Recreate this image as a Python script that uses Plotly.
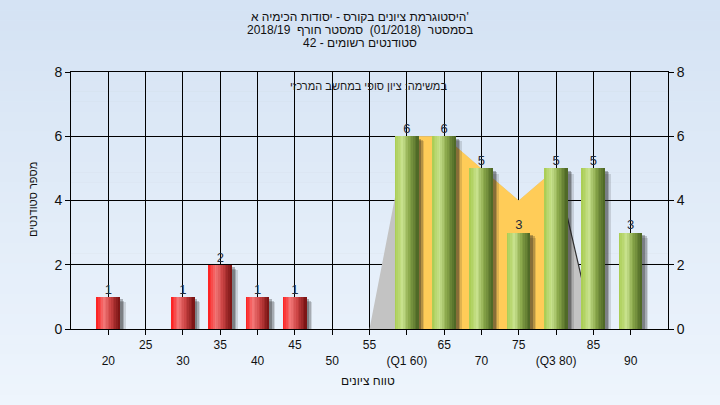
import plotly.graph_objects as go

# ---------------- data ----------------
categories = ["20", "25", "30", "35", "40", "45", "50", "55",
              "60", "65", "70", "75", "80", "85", "90"]
counts = [1, 0, 1, 2, 1, 1, 0, 0, 6, 6, 5, 3, 5, 5, 3]
tick_labels = ["<br>20", "25", "<br>30", "35", "<br>40", "45", "<br>50", "55",
               "<br>(Q1 60)", "65", "<br>70", "75", "<br>(Q3 80)", "85", "<br>90"]
pass_score = 60

dist_cats = ["55", "60", "65", "70", "75", "80", "85"]
dist_vals = [0, 6, 6, 5, 4, 5, 0]
iqr_cats = ["60", "65", "70", "75", "80"]
iqr_vals = [6, 6, 5, 4, 5]
tail_cats = ["80", "85"]
tail_vals = [5, 0]

title_lines = ["היסטוגרמת ציונים בקורס - יסודות הכימיה א'",
               "בסמסטר  (01/2018)  סמסטר חורף  2018/19",
               "סטודנטים רשומים - 42"]
note_text = "במשימה: ציון סופי במחשב המרכזי"
x_title = "טווח ציונים"
y_title = "מספר סטודנטים"

# ---------------- styling helpers ----------------
W, H = 720, 405
PL, PR, PT, PB = 71, 668, 72, 329
FONT = "Liberation Sans, DejaVu Sans, Arial, sans-serif"


def px_x(x):
    return (x - PL) / (PR - PL)


def px_y(y):
    return (PB - y) / (PB - PT)


def hex2rgb(h):
    h = h.lstrip("#")
    return tuple(int(h[i:i + 2], 16) for i in (0, 2, 4))


def grad(stops, t):
    for (t0, c0), (t1, c1) in zip(stops, stops[1:]):
        if t0 <= t <= t1:
            a = (t - t0) / (t1 - t0) if t1 > t0 else 0
            r0, g0, b0 = hex2rgb(c0)
            r1, g1, b1 = hex2rgb(c1)
            return "rgb(%d,%d,%d)" % (r0 + (r1 - r0) * a, g0 + (g1 - g0) * a, b0 + (b1 - b0) * a)
    return stops[-1][1]


cat_idx = {c: i for i, c in enumerate(categories)}


def area_path(cats, vals):
    pts = [(cat_idx[c], v) for c, v in zip(cats, vals)]
    p = "M %g,0 " % pts[0][0]
    p += " ".join("L %g,%g" % (x, y) for x, y in pts)
    p += " L %g,0 Z" % pts[-1][0]
    return p


def line_path(cats, vals):
    pts = [(cat_idx[c], v) for c, v in zip(cats, vals)]
    return "M " + " L ".join("%g,%g" % (x, y) for x, y in pts)


red_stops = [(0, "#ff1a1a"), (0.33, "#f27878"), (0.62, "#cc4444"), (1.0, "#761212")]
green_stops = [(0, "#a8cc50"), (0.33, "#c8e28e"), (0.62, "#8aa84a"), (1.0, "#4a6424")]

fig = go.Figure()

BW = 0.62
# shadows
for dx, db, op in [(0.08, -0.08, 0.30), (0.12, -0.12, 0.22), (0.16, -0.16, 0.14)]:
    fig.add_trace(go.Bar(x=categories, y=counts, base=db, width=BW, offset=-BW / 2 + dx,
                         marker=dict(color="rgba(30,30,30,%.2f)" % op, line=dict(width=0)),
                         hoverinfo="skip", showlegend=False))

# gradient bars
N = 14
for k in range(N):
    t = (k + 0.5) / N
    cols = [grad(green_stops if int(c) >= pass_score else red_stops, t) for c in categories]
    fig.add_trace(go.Bar(x=categories, y=counts, width=BW / N + 0.004,
                         offset=-BW / 2 + k * BW / N,
                         marker=dict(color=cols, line=dict(width=0)),
                         hoverinfo="skip", showlegend=False))

# value labels
lab_x = [c for c, v in zip(categories, counts) if v > 0]
lab_y = [v for v in counts if v > 0]
fig.add_trace(go.Scatter(x=lab_x, y=lab_y, mode="text", text=[str(v) for v in lab_y],
                         textposition="top center",
                         textfont=dict(family=FONT, size=13, color="#1e2a3a"),
                         hoverinfo="skip", showlegend=False, cliponaxis=False))

# right axis carrier
fig.add_trace(go.Scatter(x=categories, y=counts, yaxis="y2", mode="markers",
                         marker=dict(opacity=0), hoverinfo="skip", showlegend=False))

# paper gradient
shapes = []
NB = 40
top_c, bot_c = "#d5e3f4", "#eef5fd"
for i in range(NB):
    y0 = i * H / NB
    y1 = (i + 1) * H / NB + 0.5
    shapes.append(dict(type="rect", xref="paper", yref="paper", layer="below",
                       x0=px_x(0), x1=px_x(W), y0=px_y(y1), y1=px_y(y0),
                       fillcolor=grad([(0, top_c), (1, bot_c)], i / (NB - 1)),
                       line=dict(width=0)))

# distribution areas (below bars)
shapes.append(dict(type="path", xref="x", yref="y", layer="between",
                   path=area_path(dist_cats, dist_vals),
                   fillcolor="#c3c3c3", line=dict(width=0)))
shapes.append(dict(type="path", xref="x", yref="y", layer="between",
                   path=area_path(iqr_cats, iqr_vals),
                   fillcolor="#ffcc58", line=dict(width=0)))
shapes.append(dict(type="path", xref="x", yref="y", layer="between",
                   path=line_path(tail_cats, tail_vals),
                   line=dict(width=1.2, color="#303030")))

annotations = []
for line, ypx in zip(title_lines, [17, 30, 43]):
    annotations.append(dict(text=line, x=px_x(360), y=px_y(ypx), xref="paper", yref="paper",
                            showarrow=False, xanchor="center", yanchor="middle",
                            font=dict(family=FONT, size=12, color="#101010")))
annotations.append(dict(text=note_text, x=px_x(368), y=px_y(86), xref="paper", yref="paper",
                        showarrow=False, xanchor="center", yanchor="middle",
                        font=dict(family=FONT, size=11, color="#1a1a1a")))
annotations.append(dict(text=x_title, x=px_x(368), y=px_y(381), xref="paper", yref="paper",
                        showarrow=False, xanchor="center", yanchor="middle",
                        font=dict(family=FONT, size=12, color="#101010")))
annotations.append(dict(text=y_title, x=px_x(33), y=px_y(200), xref="paper", yref="paper",
                        showarrow=False, xanchor="center", yanchor="middle", textangle=-90,
                        font=dict(family=FONT, size=11, color="#101010")))

fig.update_layout(
    width=W, height=H, autosize=False,
    margin=dict(l=PL, r=W - PR, t=PT, b=H - PB, pad=0),
    paper_bgcolor="#e2edf9", plot_bgcolor="#b4b4b4",
    barmode="overlay", bargap=0,
    showlegend=False, hovermode=False,
    shapes=shapes, annotations=annotations,
    font=dict(family=FONT, size=12, color="#101010"),
    xaxis=dict(type="category", categoryorder="array", categoryarray=categories,
               range=[-1, 15], tickmode="array", tickvals=categories, ticktext=tick_labels,
               showgrid=True, gridcolor="#000000", gridwidth=1,
               showline=True, linecolor="#000000", linewidth=1, mirror=True,
               ticks="outside", ticklen=5, tickcolor="#000000",
               tickfont=dict(family=FONT, size=12, color="#101010")),
    yaxis=dict(range=[0, 8], dtick=2, tick0=0,
               showgrid=True, gridcolor="#000000", gridwidth=1, zeroline=False,
               showline=True, linecolor="#000000", linewidth=1, mirror=True,
               ticks="outside", ticklen=5, tickcolor="#000000",
               tickfont=dict(family=FONT, size=14, color="#101010")),
    yaxis2=dict(range=[0, 8], dtick=2, tick0=0, overlaying="y", side="right",
                showgrid=False, zeroline=False, showline=False,
                ticks="outside", ticklen=5, tickcolor="#000000",
                tickfont=dict(family=FONT, size=14, color="#101010")),
)

fig.write_html("out.html", config={"displayModeBar": False},
               post_script="document.body.style.margin='0px';")
